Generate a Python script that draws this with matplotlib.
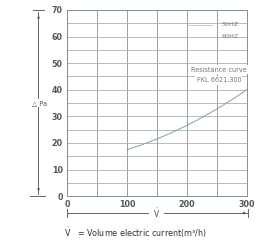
import numpy as np
import matplotlib.pyplot as plt

# resistance curve
flow = [100, 150, 200, 250, 300]
pressure = [17.5, 21.5, 26.5, 33.0, 40.0]
x_ticks = [0, 100, 200, 300]
y_ticks = [0, 10, 20, 30, 40, 50, 60, 70]

grid_col = '#a3b3b6'
text_col = '#555555'

fig = plt.figure(figsize=(2.74, 2.43), dpi=100)
ax = fig.add_axes([0.2445, 0.193, 0.657, 0.766])

# smooth the read points a little
xs = np.linspace(flow[0], flow[-1], 60)
coef = np.polyfit(flow, pressure, 2)
ax.plot(xs, np.polyval(coef, xs), color='#8c9ea3', lw=0.7, zorder=3)

ax.set_xlim(0, 300)
ax.set_ylim(0, 70)
ax.set_xticks(x_ticks)
ax.set_yticks(y_ticks)
ax.set_xticks(np.arange(0, 301, 50), minor=True)
ax.set_yticks(np.arange(0, 71, 5), minor=True)
ax.grid(which='both', axis='y', color=grid_col, lw=0.6)
ax.grid(which='both', axis='x', color='#7f9397', lw=0.6)
ax.tick_params(which='both', length=0, labelsize=5.8, labelcolor=text_col, pad=3)
for lbl in ax.get_xticklabels() + ax.get_yticklabels():
    lbl.set_fontweight('bold')
for s in ax.spines.values():
    s.set_color('#7f9397')
    s.set_linewidth(0.7)

# legend texts
ax.plot([200, 242], [64.5, 64.5], color='#b8c4c6', lw=0.6, zorder=3)
ax.text(272, 64.5, '50HZ', fontsize=4.6, color='#777777', ha='center', va='center', zorder=4)
ax.text(272, 60, '60HZ', fontsize=4.6, color='#777777', ha='center', va='center', zorder=4)
ax.text(253, 47.5, 'Resistance curve', fontsize=4.7, color='#777777', ha='center', va='center',
        zorder=4, bbox=dict(facecolor='white', edgecolor='none', pad=1.0))
ax.text(253, 43.5, 'FKL 6621.300', fontsize=4.7, color='#777777', ha='center', va='center',
        zorder=4, bbox=dict(facecolor='white', edgecolor='none', pad=0.8))

# delta p arrow on the left
fig.add_artist(plt.Line2D([0.139, 0.139], [0.2, 0.95], color='#666666', lw=0.7))
fig.add_artist(plt.Line2D([0.12, 0.16], [0.958, 0.958], color='#666666', lw=0.7))
fig.add_artist(plt.Line2D([0.11, 0.165], [0.193, 0.193], color='#666666', lw=0.7))
fig.text(0.139, 0.93, '\u25b2', fontsize=3, color='#555555', ha='center', va='center')
fig.text(0.139, 0.215, '\u25bc', fontsize=3, color='#555555', ha='center', va='center')
fig.text(0.146, 0.576, '\u25b3 Pa', fontsize=4.8, color=text_col, ha='center', va='center',
         bbox=dict(facecolor='white', edgecolor='none', pad=0.5))

# flow arrow below
fig.add_artist(plt.Line2D([0.245, 0.54], [0.123, 0.123], color='#666666', lw=0.7))
fig.add_artist(plt.Line2D([0.6, 0.9], [0.123, 0.123], color='#666666', lw=0.7))
fig.add_artist(plt.Line2D([0.245, 0.245], [0.105, 0.14], color='#666666', lw=0.7))
fig.add_artist(plt.Line2D([0.905, 0.905], [0.105, 0.14], color='#666666', lw=0.7))
fig.text(0.893, 0.123, '\u25b6', fontsize=3, color='#555555', ha='center', va='center')
fig.text(0.57, 0.123, r'$\dot{\mathrm{V}}$', fontsize=5.5, color=text_col, ha='center', va='center')

fig.text(0.235, 0.045, r'$\dot{\mathrm{V}}$' + '   = Volume electric current(m\u00b3/h)',
         fontsize=5.8, color='#333333', ha='left', va='center')

fig.savefig('out.png', dpi=100)
